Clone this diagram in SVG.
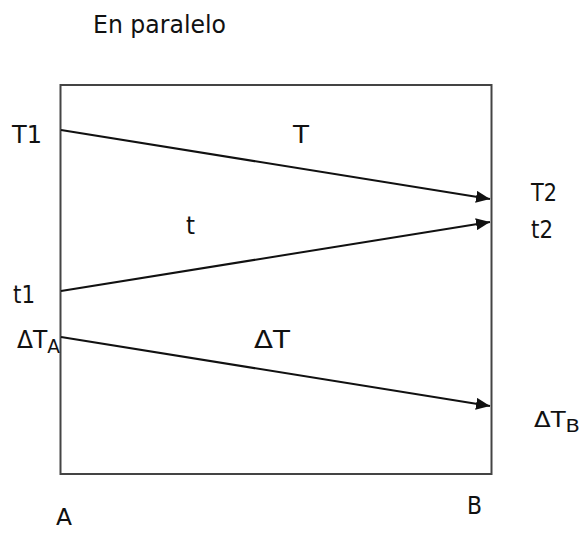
<svg xmlns="http://www.w3.org/2000/svg" width="586" height="533" viewBox="0 0 586 533">
<style>
text{font-family:"DejaVu Sans",Verdana,sans-serif;font-size:24px;fill:#111}
.sub{font-size:19px}
.sm{font-size:21px}
.sm .sub{font-size:18px}
.conn{stroke:#111;stroke-width:2;fill:none;marker-end:url(#ah)}
</style>
<defs>
<marker id="ah" markerWidth="14" markerHeight="12" refX="14" refY="6" orient="auto" markerUnits="userSpaceOnUse">
<path d="M0,0 L14,6 L0,12 Z" fill="#111"/>
</marker>
</defs>
<rect width="586" height="533" fill="#fff"/>
<g id="title"><text x="93" y="33" textLength="133" lengthAdjust="spacingAndGlyphs">En paralelo</text></g>
<g id="box"><rect x="60.5" y="85" width="431" height="389" fill="none" stroke="#444" stroke-width="2"/></g>
<g id="connectors">
<line class="conn" x1="61" y1="130" x2="490" y2="199"/>
<line class="conn" x1="61" y1="291" x2="490" y2="222"/>
<line class="conn" x1="61" y1="337" x2="490" y2="406"/>
</g>
<g id="labels">
<text x="12" y="143" textLength="30" lengthAdjust="spacingAndGlyphs">T1</text>
<text x="293" y="143" textLength="16" lengthAdjust="spacingAndGlyphs">T</text>
<text x="531" y="201" textLength="26" lengthAdjust="spacingAndGlyphs">T2</text>
<text x="531" y="238" textLength="22" lengthAdjust="spacingAndGlyphs">t2</text>
<text x="186" y="234" textLength="9" lengthAdjust="spacingAndGlyphs">t</text>
<text x="13" y="303" textLength="22" lengthAdjust="spacingAndGlyphs">t1</text>
<text x="17" y="348" textLength="43" lengthAdjust="spacingAndGlyphs">ΔT<tspan class="sub" dy="5">A</tspan></text>
<text x="254" y="348" textLength="36" lengthAdjust="spacingAndGlyphs">ΔT</text>
<text class="sm" x="534" y="427" textLength="46" lengthAdjust="spacingAndGlyphs">ΔT<tspan class="sub" dy="5">B</tspan></text>
<text x="56" y="525" style="font-size:23px" textLength="16" lengthAdjust="spacingAndGlyphs">A</text>
<text x="467" y="514" textLength="15" lengthAdjust="spacingAndGlyphs">B</text>
</g>
</svg>
